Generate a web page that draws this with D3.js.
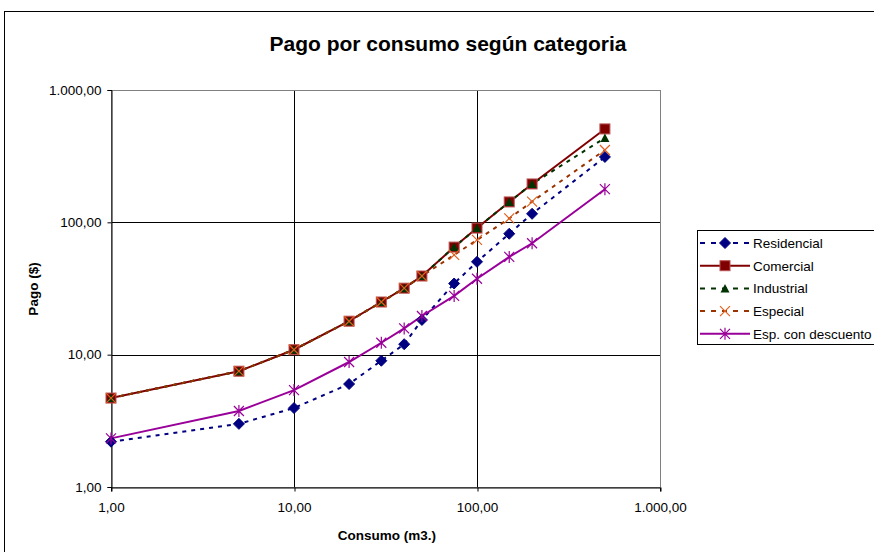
<!DOCTYPE html>
<html><head><meta charset="utf-8">
<script src="https://cdn.jsdelivr.net/npm/d3@7"></script>
<style>body{margin:0;background:#fff}svg{display:block;font-family:"Liberation Sans",Arial,sans-serif}</style>
</head><body><svg id="c" width="874" height="552"></svg>
<script>
const consumo = [1,5,10,20,30,40,50,75,100,150,200,500];
const residencial = [2.2,3.0,3.95,6.0,9.0,12.0,18.3,34.5,50.3,82,116,312];
const comercial = [4.7,7.5,10.9,17.9,25,31.8,39.3,65,90.5,142.6,195,508];
const industrial = [4.7,7.5,10.9,17.9,25,31.8,39.3,65,90.5,142.6,195,434];
const especial = [4.7,7.5,10.9,17.9,25,31.8,39.3,56.7,73.6,107,143.5,352];
const descuento = [2.33,3.75,5.4,8.8,12.3,15.8,19.6,27.8,37.5,54.8,69.5,178];
const ticks = [1,10,100,1000];
const tickLabels = ["1,00","10,00","100,00","1.000,00"];

const series = [
 {name:"Residencial", values:residencial, color:"#000080", mcolor:"#000080", dash:"4,5", marker:"diamond"},
 {name:"Comercial", values:comercial, color:"#800000", mcolor:"#800000", dash:null, marker:"square"},
 {name:"Industrial", values:industrial, color:"#003300", mcolor:"#003300", dash:"4,5", marker:"triangle"},
 {name:"Especial", values:especial, color:"#993300", mcolor:"#E06020", dash:"4,5", marker:"x"},
 {name:"Esp. con descuento", values:descuento, color:"#990099", mcolor:"#990099", dash:null, marker:"star"}
];

const svg = d3.select("#c");
svg.append("rect").attr("x",4.5).attr("y",11.5).attr("width",900).attr("height",600)
  .attr("fill","#fff").attr("stroke","#000").attr("stroke-width",1);

const L=111, R=660, T=90, B=487;
const x = d3.scaleLog().domain([1,1000]).range([L,R]);
const y = d3.scaleLog().domain([1,1000]).range([B,T]);

// gridlines
const g = svg.append("g");
ticks.forEach(t=>{
  g.append("line").attr("x1",Math.round(x(t))+0.5).attr("x2",Math.round(x(t))+0.5).attr("y1",T).attr("y2",B).attr("stroke","#000");
  g.append("line").attr("y1",Math.round(y(t))+0.5).attr("y2",Math.round(y(t))+0.5).attr("x1",L).attr("x2",R).attr("stroke","#000");
});
svg.append("rect").attr("x",L+0.5).attr("y",T+0.5).attr("width",R-L).attr("height",B-T).attr("fill","none").attr("stroke","#808080");

const fmt = d=>tickLabels[ticks.indexOf(d)];
const xa = svg.append("g").attr("transform",`translate(0,${B+0.5})`)
  .call(d3.axisBottom(x).tickValues(ticks).tickFormat(fmt).tickSize(4).tickPadding(11));
const ya = svg.append("g").attr("transform",`translate(${L+0.5},0)`)
  .call(d3.axisLeft(y).tickValues(ticks).tickFormat(fmt).tickSize(4).tickPadding(6));
[xa,ya].forEach(a=>{
  a.selectAll("text").attr("font-size","13.5px").attr("fill","#000").attr("font-family","Liberation Sans, Arial");
  a.select(".domain").attr("stroke","#000");
  a.selectAll(".tick line").attr("stroke","#000");
});
xa.selectAll(".tick line").attr("transform","translate(0.5,0)");

function marker(sel, type, color){
  if(type==="diamond"){
    sel.append("path").attr("d","M0,-5.5L5.5,0L0,5.5L-5.5,0Z").attr("fill",color).attr("stroke",color);
  } else if(type==="square"){
    sel.append("rect").attr("x",-5).attr("y",-5).attr("width",10).attr("height",10).attr("fill",color).attr("stroke","#b85050").attr("stroke-width",1);
  } else if(type==="triangle"){
    sel.append("path").attr("d","M0,-4.5L4.5,4L-4.5,4Z").attr("fill",color);
  } else if(type==="x"){
    sel.append("path").attr("d","M-5,-5L5,5M-5,5L5,-5").attr("stroke",color).attr("stroke-width",1.2).attr("fill","none");
  } else if(type==="star"){
    sel.append("path").attr("d","M-5,-5L5,5M-5,5L5,-5M0,-6L0,6").attr("stroke",color).attr("stroke-width",1.2).attr("fill","none");
  }
}

const line = d3.line().x((d,i)=>x(consumo[i])).y(d=>y(d));
series.forEach(s=>{
  svg.append("path").datum(s.values).attr("d",line).attr("fill","none")
    .attr("stroke",s.color).attr("stroke-width",2).attr("stroke-dasharray",s.dash);
});
series.forEach(s=>{
  s.values.forEach((v,i)=>{
    const m = svg.append("g").attr("transform",`translate(${x(consumo[i])},${y(v)})`);
    marker(m,s.marker,s.mcolor);
  });
});

// title
svg.append("text").attr("x",448).attr("y",51).attr("text-anchor","middle")
  .attr("font-size","21px").attr("font-weight","bold").text("Pago por consumo según categoria");
svg.append("text").attr("x",387).attr("y",540).attr("text-anchor","middle")
  .attr("font-size","13.5px").attr("font-weight","bold").text("Consumo (m3.)");
svg.append("text").attr("transform","translate(38,289) rotate(-90)").attr("text-anchor","middle")
  .attr("font-size","13.5px").attr("font-weight","bold").text("Pago ($)");

// legend
const lg = svg.append("g");
lg.append("rect").attr("x",697.5).attr("y",230.5).attr("width",200).attr("height",114)
  .attr("fill","#fff").attr("stroke","#000");
series.forEach((s,i)=>{
  const yy = 243 + i*22.7;
  lg.append("line").attr("x1",700).attr("x2",750).attr("y1",yy).attr("y2",yy)
    .attr("stroke",s.color).attr("stroke-width",2).attr("stroke-dasharray",s.dash?"5,6":null);
  const m = lg.append("g").attr("transform",`translate(725,${yy})`);
  marker(m,s.marker,s.mcolor);
  lg.append("text").attr("x",753).attr("y",yy+5).attr("font-size","13.5px").text(s.name);
});
</script></body></html>
